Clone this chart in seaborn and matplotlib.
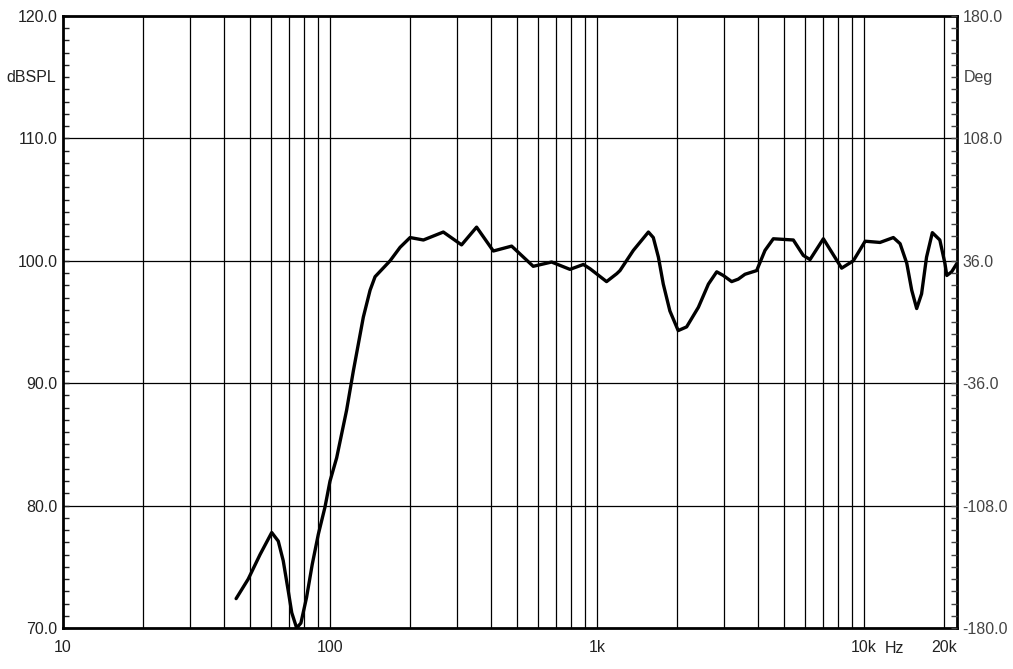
import matplotlib

matplotlib.use("Agg")
import matplotlib.pyplot as plt
import matplotlib.transforms as mtransforms
import numpy as np
import pandas as pd
import seaborn as sns

# frequency response (Hz, dB SPL)
freq_hz = [
    44.5, 49.4, 54.7, 60.5, 64.0, 66.8, 69.8, 71.9, 75.0, 77.8,
    81.7, 85.8, 90.4, 95.7, 100.0, 105.9, 115.4, 122.3, 133.3, 141.3,
    147.5, 167.9, 183.0, 199.5, 223.8, 265.7, 311.0, 354.0, 409.0, 479.0,
    577.0, 676.0, 792.0, 889.0, 942.0, 1086.0, 1186.0, 1219.0, 1368.0, 1558.0,
    1625.0, 1698.0, 1771.0, 1875.0, 2014.0, 2166.0, 2397.0, 2614.0, 2808.0, 2972.0,
    3194.0, 3380.0, 3583.0, 3962.0, 4258.0, 4575.0, 5436.0, 5925.0, 6278.0, 7044.0,
    8247.0, 9120.0, 10100.0, 11480.0, 12880.0, 13650.0, 14460.0, 15090.0, 15750.0, 16430.0,
    17150.0, 18030.0, 19230.0, 20090.0, 20420.0, 21290.0, 22300.0,
]
spl_db = [
    72.4, 74.0, 76.0, 77.8, 77.1, 75.5, 73.0, 71.25, 70.0, 70.4,
    72.5, 75.2, 77.65, 79.85, 82.0, 83.9, 87.8, 91.0, 95.4, 97.6,
    98.7, 100.0, 101.1, 101.9, 101.7, 102.35, 101.3, 102.75, 100.8, 101.2,
    99.55, 99.9, 99.3, 99.7, 99.35, 98.3, 98.95, 99.2, 100.85, 102.35,
    101.9, 100.3, 98.1, 95.9, 94.3, 94.6, 96.2, 98.1, 99.1, 98.8,
    98.3, 98.5, 98.9, 99.2, 100.85, 101.8, 101.7, 100.44, 100.1, 101.8,
    99.4, 100.0, 101.6, 101.5, 101.9, 101.4, 99.8, 97.6, 96.1, 97.3,
    100.3, 102.3, 101.7, 99.8, 98.8, 99.1, 99.8,
]

x_ticks = [10, 100, 1000, 10000, 20000]
x_tick_labels = ["10", "100", "1k", "10k", "20k"]
y_ticks = [70, 80, 90, 100, 110, 120]
y_tick_labels = ["70.0", "80.0", "90.0", "100.0", "110.0", "120.0"]
deg_ticks = [-180, -108, -36, 36, 108, 180]
deg_tick_labels = ["-180.0", "-108.0", "-36.0", "36.0", "108.0", "180.0"]

sns.set_theme(style="white")
plt.rcParams["font.family"] = ["Liberation Sans", "DejaVu Sans"]

df = pd.DataFrame({"freq": freq_hz, "spl": spl_db})

fig = plt.figure(figsize=(10.13, 6.69), dpi=100)
ax = fig.add_axes([63 / 1013, 1 - 628 / 669, (957 - 63) / 1013, (628 - 16) / 669])

sns.lineplot(data=df, x="freq", y="spl", ax=ax, color="black", linewidth=2.4)
for ln in ax.lines:
    ln.set_solid_joinstyle("round")
    ln.set_solid_capstyle("round")

ax.set_xscale("log")
ax.set_xlim(10, 22300)
ax.set_ylim(70, 120)

# grid: every 1..9 per decade on x, every 10 dB on y
grid_x = [m * 10**e for e in range(1, 5) for m in range(1, 10)]
grid_x = [g for g in grid_x if 10 < g < 22300]
for g in grid_x:
    ax.axvline(g, color="black", linewidth=0.9, zorder=0)
for g in y_ticks[1:-1]:
    ax.axhline(g, color="black", linewidth=0.9, zorder=0)

ax.set_xticks(x_ticks)
ax.set_xticklabels(x_tick_labels)
ax.xaxis.set_minor_locator(matplotlib.ticker.NullLocator())
ax.tick_params(axis="x", which="both", length=0, pad=9, labelsize=11.5, colors="#222222")
ax.set_yticks(y_ticks)
ax.set_yticklabels(y_tick_labels)
ax.set_yticks(np.arange(70, 121, 1), minor=True)
ax.tick_params(axis="y", which="both", direction="in", length=4, width=1,
               pad=4, labelsize=11.5, colors="#222222", left=True)
ax.set_xlabel("")
ax.set_ylabel("")

for s in ax.spines.values():
    s.set_color("black")
    s.set_linewidth(2)

# phase axis on the right
ax2 = ax.twinx()
ax2.set_ylim(-180, 180)
ax2.set_yticks(deg_ticks)
ax2.set_yticklabels(deg_tick_labels)
ax2.set_yticks(np.arange(-180, 180.1, 7.2), minor=True)
ax2.tick_params(axis="y", which="both", direction="in", length=4, width=1,
                pad=4, labelsize=11.5, colors="#444444", right=True)
ax2.grid(False)
for s in ax2.spines.values():
    s.set_visible(False)

ax.text(-0.008, 115, "dBSPL", transform=mtransforms.blended_transform_factory(ax.transAxes, ax.transData),
        ha="right", va="center", fontsize=11.5, color="#222222")
ax.text(1.007, 115, "Deg", transform=mtransforms.blended_transform_factory(ax.transAxes, ax.transData),
        ha="left", va="center", fontsize=11.5, color="#444444")
ax.text(12950, -0.0205, "Hz", transform=mtransforms.blended_transform_factory(ax.transData, ax.transAxes),
        ha="center", va="top", fontsize=11.5, color="#222222")

fig.savefig("out.png", dpi=100, facecolor="white")
